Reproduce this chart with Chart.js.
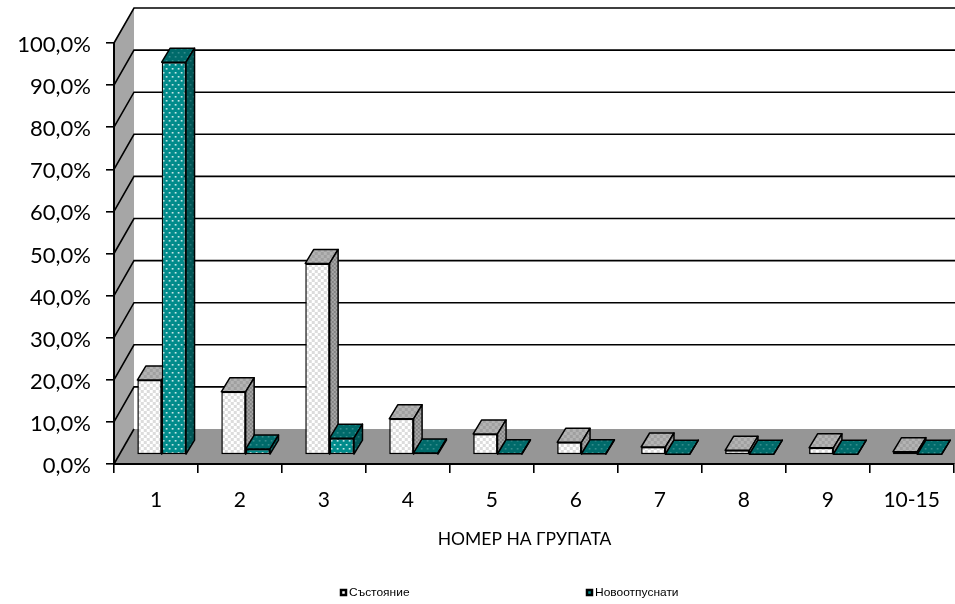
<!DOCTYPE html>
<html>
<head>
<meta charset="utf-8">
<style>
  html, body { margin: 0; padding: 0; background: #fff; }
  canvas { display: block; }
</style>
<script src="https://cdn.jsdelivr.net/npm/chart.js@4/dist/chart.umd.min.js"></script>
</head>
<body>
<canvas id="chart" width="955" height="604"></canvas>
<script>
const categories = ['1', '2', '3', '4', '5', '6', '7', '8', '9', '10-15'];
const stateValues = [17.8, 15, 45.5, 8.6, 5, 3, 1.9, 1.1, 1.7, 0.8];
const newlyReleasedValues = [93.3, 1.4, 4, 0.5, 0.3, 0.3, 0.2, 0.2, 0.2, 0.2];
const seriesNames = ['Състояние', 'Новоотпуснати'];
const axisTitle = 'НОМЕР НА ГРУПАТА';

// 3d look: back wall offset and how far the bars sit from the front edge
const WALL_DX = 20;
const WALL_DY = -35;
const BAR_DX = 5.7;
const BAR_DY = -9;
const DEPTH_DX = 8.5;
const DEPTH_DY = -14;

function checker(light, dark, size) {
  const c = document.createElement('canvas');
  c.width = size * 2;
  c.height = size * 2;
  const g = c.getContext('2d');
  g.fillStyle = light;
  g.fillRect(0, 0, size * 2, size * 2);
  g.fillStyle = dark;
  g.fillRect(0, 0, size, size);
  g.fillRect(size, size, size, size);
  return g.createPattern(c, 'repeat');
}

function dots(base, dot) {
  const c = document.createElement('canvas');
  c.width = 6;
  c.height = 8;
  const g = c.getContext('2d');
  g.fillStyle = base;
  g.fillRect(0, 0, 6, 8);
  g.fillStyle = dot;
  g.fillRect(1, 1, 1.6, 1.6);
  g.fillRect(4, 5, 1.6, 1.6);
  return g.createPattern(c, 'repeat');
}

const faces = [
  { front: checker('#ffffff', '#dcdcdc', 3), top: checker('#b4b4b4', '#a0a0a0', 3), side: checker('#a6a6a6', '#848484', 2) },
  { front: dots('#008b8b', '#d8f0f0'), top: dots('#006a6a', '#3a9090'), side: dots('#005555', '#2a7a7a') },
];

function quad(ctx, pts, fill, stroke) {
  ctx.beginPath();
  ctx.moveTo(pts[0][0], pts[0][1]);
  pts.slice(1).forEach(p => ctx.lineTo(p[0], p[1]));
  ctx.closePath();
  ctx.fillStyle = fill;
  ctx.fill();
  if (stroke) {
    ctx.strokeStyle = stroke;
    ctx.lineWidth = 1.5;
    ctx.stroke();
  }
}

const walls3d = {
  id: 'walls3d',
  beforeDraw(chart) {
    const { ctx, chartArea: a, scales } = chart;
    const y = scales.y;
    const zero = y.getPixelForValue(0);
    const full = y.getPixelForValue(100);
    ctx.save();
    // left wall
    quad(ctx, [[a.left, full], [a.left + WALL_DX, full + WALL_DY], [a.left + WALL_DX, zero + WALL_DY], [a.left, zero]], '#a6a6a6');
    // floor
    quad(ctx, [[a.left, zero], [a.left + WALL_DX, zero + WALL_DY], [chart.width, zero + WALL_DY], [chart.width, zero]], '#969696');
    // gridlines on back and left walls
    ctx.strokeStyle = '#000';
    ctx.lineWidth = 1.6;
    y.ticks.forEach(t => {
      const py = y.getPixelForValue(t.value);
      ctx.beginPath();
      ctx.moveTo(a.left, py);
      ctx.lineTo(a.left + WALL_DX, py + WALL_DY);
      if (t.value > 0) ctx.lineTo(chart.width, py + WALL_DY);
      ctx.stroke();
    });
    ctx.restore();
  },
  // white series has to go down first so the teal bars cover its side faces
  beforeDatasetsDraw(chart) {
    const ctx = chart.ctx;
    [0, 1].forEach(index => {
      const meta = chart.getDatasetMeta(index);
      const face = faces[index];
      ctx.save();
      ctx.translate(BAR_DX, BAR_DY);
      meta.controller.draw();
      ctx.lineJoin = 'round';
      meta.data.forEach(el => {
        const p = el.getProps(['x', 'y', 'base', 'width'], true);
        const l = p.x - p.width / 2;
        const r = p.x + p.width / 2;
        quad(ctx, [[l, p.y], [l + DEPTH_DX, p.y + DEPTH_DY], [r + DEPTH_DX, p.y + DEPTH_DY], [r, p.y]], face.top, '#000');
        quad(ctx, [[r, p.y], [r + DEPTH_DX, p.y + DEPTH_DY], [r + DEPTH_DX, p.base + DEPTH_DY], [r, p.base]], face.side, '#000');
      });
      ctx.restore();
    });
    return false;
  },
  afterDraw(chart) {
    const ctx = chart.ctx;
    const legendX = [340, 586];
    ctx.save();
    ctx.fillStyle = '#000';
    ctx.font = '17.5px Lato';
    ctx.textAlign = 'center';
    ctx.textBaseline = 'middle';
    ctx.fillText(axisTitle, 524.5, 539);
    ctx.textAlign = 'left';
    ctx.font = '10.5px "Liberation Sans"';
    seriesNames.forEach((name, i) => {
      ctx.fillStyle = i === 0 ? '#ffffff' : '#008b8b';
      ctx.strokeStyle = '#000';
      ctx.lineWidth = 2.5;
      ctx.fillRect(legendX[i] + 1, 590, 5, 5);
      ctx.strokeRect(legendX[i] + 1, 590, 5, 5);
      ctx.fillStyle = '#000';
      ctx.save();
      ctx.translate(legendX[i] + 9, 593);
      ctx.scale(1.14, 1);
      ctx.fillText(name, 0, 0);
      ctx.restore();
    });
    ctx.restore();
  },
};

new Chart(document.getElementById('chart'), {
  type: 'bar',
  plugins: [walls3d],
  data: {
    labels: categories,
    datasets: [
      {
        label: seriesNames[0],
        data: stateValues,
        backgroundColor: faces[0].front,
        borderColor: '#000',
        borderWidth: 1.5,
        borderSkipped: false,
        clip: false,
      },
      {
        label: seriesNames[1],
        data: newlyReleasedValues,
        backgroundColor: faces[1].front,
        borderColor: '#000',
        borderWidth: 1.5,
        borderSkipped: false,
        clip: false,
      },
    ],
  },
  options: {
    responsive: false,
    animation: false,
    events: [],
    layout: { padding: { top: 43, left: 0, right: 1, bottom: 50 } },
    datasets: { bar: { categoryPercentage: 0.58, barPercentage: 1 } },
    plugins: { legend: { display: false }, tooltip: { enabled: false } },
    scales: {
      x: {
        grid: { drawOnChartArea: false, color: '#000', lineWidth: 1.6, tickLength: 9 },
        border: { color: '#000', width: 2 },
        ticks: { color: '#000', padding: 15, font: { family: 'Lato', size: 21 }, maxRotation: 0 },
        afterFit(scale) { scale.height = 90; },
      },
      y: {
        min: 0,
        max: 100,
        grid: { drawOnChartArea: false, color: '#000', lineWidth: 1.6, tickLength: 8 },
        border: { color: '#000', width: 2 },
        ticks: {
          stepSize: 10,
          color: '#000',
          padding: 15,
          labelOffset: 2,
          font: { family: 'Lato', size: 22 },
          callback: v => v.toFixed(1).replace('.', ',') + '%',
        },
        afterFit(scale) { scale.width = 114; },
      },
    },
  },
});
</script>
</body>
</html>
